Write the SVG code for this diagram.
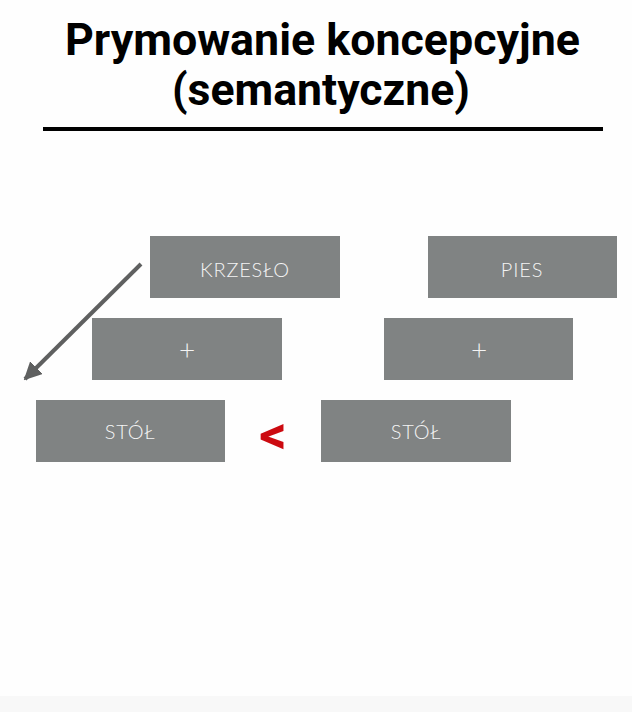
<svg xmlns="http://www.w3.org/2000/svg" width="632" height="712" viewBox="0 0 632 712">
<style>
.t{font-family:Roboto,"Liberation Sans",sans-serif;font-weight:700;font-size:44px;fill:#000}
.box{fill:#808383}
.lbl{font-family:Lato,"Open Sans","Liberation Sans",sans-serif;font-weight:300;font-size:20px;fill:#f4f4f4;text-anchor:middle;dominant-baseline:central}
.pl{font-size:28px}
</style>
<defs>
<marker id="ah" viewBox="0 0 10 10" refX="9" refY="5" markerWidth="4.5" markerHeight="4.5" orient="auto" markerUnits="strokeWidth">
<path d="M0,0 L10,5 L0,10 Z" fill="#5f6060"/>
</marker>
</defs>
<rect x="0" y="0" width="632" height="712" fill="#fefefe"/>
<rect x="0" y="696" width="632" height="16" fill="#f8f8f8"/>
<g id="title">
<text class="t" x="65" y="55" textLength="515" lengthAdjust="spacingAndGlyphs">Prymowanie koncepcyjne</text>
<text class="t" x="172" y="105" textLength="298" lengthAdjust="spacingAndGlyphs">(semantyczne)</text>
<rect x="43" y="127" width="560" height="4" fill="#000"/>
</g>
<g id="krzeslo"><rect class="box" x="150" y="236" width="190" height="62"/><text class="lbl" x="245" y="269" letter-spacing="0.8">KRZESŁO</text></g>
<g id="pies"><rect class="box" x="428" y="236" width="189" height="62"/><text class="lbl" x="522" y="269" letter-spacing="0.8">PIES</text></g>
<g id="plus1"><rect class="box" x="92" y="318" width="190" height="62"/><text class="lbl pl" x="187" y="349">+</text></g>
<g id="plus2"><rect class="box" x="384" y="318" width="189" height="62"/><text class="lbl pl" x="479" y="349">+</text></g>
<g id="stol1"><rect class="box" x="36" y="400" width="189" height="62"/><text class="lbl" x="130" y="431" letter-spacing="0.8">STÓŁ</text></g>
<g id="stol2"><rect class="box" x="321" y="400" width="190" height="62"/><text class="lbl" x="416" y="431" letter-spacing="0.8">STÓŁ</text></g>
<g id="lt"><text x="273" y="434" font-family="Roboto,'Liberation Sans',sans-serif" font-weight="700" font-size="54" fill="#cc0a10" text-anchor="middle" dominant-baseline="central">&lt;</text></g>
<g id="connectors">
<line x1="141" y1="264" x2="25" y2="379" stroke="#5f6060" stroke-width="4" marker-end="url(#ah)"/>
</g>
</svg>
